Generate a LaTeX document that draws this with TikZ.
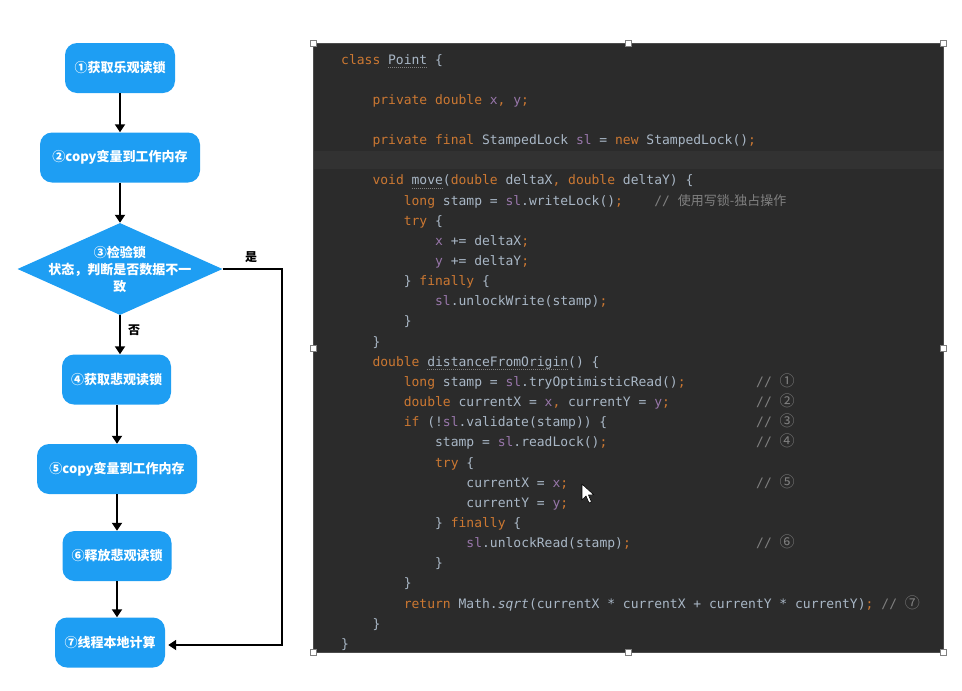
\documentclass[tikz,border=0pt]{standalone}
\usepackage{fontspec}
\usetikzlibrary{shapes.geometric,arrows.meta}
\newfontfamily\cjk{Noto Sans CJK SC}
\newfontfamily\mono{DejaVu Sans Mono}
\definecolor{flowblue}{RGB}{30,158,243}
\definecolor{panel}{RGB}{43,43,43}
\definecolor{band}{RGB}{50,50,50}
\definecolor{kw}{RGB}{204,120,50}
\definecolor{fd}{RGB}{152,118,170}
\definecolor{tx}{RGB}{169,183,198}
\definecolor{cm}{RGB}{128,128,128}
\newcommand\kwd[1]{\textcolor{kw}{#1}}
\newcommand\fld[1]{\textcolor{fd}{#1}}
\newcommand\circd[1]{{\cjk\fontsize{15}{15}\selectfont #1}}
\newcommand\codeln[4]{\node[code] (#1) at ({341+#2*7.83},{64+#3*20.15}) {#4};}
\newcommand\cmtln[4]{\node[cmt] (#1) at ({341+#2*7.83},{64+#3*20.15}) {#4};}
\tikzset{
  box/.style={rounded corners=12pt, fill=flowblue, text=white,
    font=\cjk\bfseries\fontsize{13}{15}\selectfont, minimum height=50pt, inner sep=0pt},
  flow/.style={line width=1.8pt, -{Triangle[length=8pt,width=10pt]}},
  lbl/.style={font=\cjk\bfseries\fontsize{12}{14}\selectfont, text=black, inner sep=0pt},
  code/.style={anchor=base west, inner sep=0pt, text=tx, font=\mono\fontsize{13}{15}\selectfont},
  cmt/.style={code, text=cm},
  handle/.style={draw=gray, fill=white, line width=0.6pt, minimum size=6pt, inner sep=0pt},
  warnline/.style={draw=cm, line width=0.8pt, dash pattern=on 1pt off 1pt}
}
\begin{document}
\begin{tikzpicture}[x=1pt, y=-1pt]
\useasboundingbox (0,0) rectangle (962,691);
% ---------- flowchart ----------
\node[box, minimum width=110pt] (n1) at (120,68) {①获取乐观读锁};
\node[box, minimum width=160pt] (n2) at (120,157.5) {②copy变量到工作内存};
\node[diamond, fill=flowblue, minimum width=205pt, minimum height=92pt, inner sep=0pt] (d3) at (120,269) {};
\node[text=white, font=\cjk\bfseries\fontsize{13}{17}\selectfont, align=center, inner sep=0pt] (t3) at (d3) {③检验锁\\状态，判断是否数据不一\\致};
\node[box, minimum width=109pt] (n4) at (116.5,379.5) {④获取悲观读锁};
\node[box, minimum width=160pt] (n5) at (117,469) {⑤copy变量到工作内存};
\node[box, minimum width=109pt] (n6) at (117,556) {⑥释放悲观读锁};
\node[box, minimum width=110pt] (n7) at (110,642.5) {⑦线程本地计算};
\draw[flow] (n1.south) -- (n2.north);
\draw[flow] (n2.south) -- (d3.north);
\draw[flow] (d3.south) -- (d3.south |- n4.north);
\draw[flow] (n4.south -| n5.north) -- (n5.north);
\draw[flow] (n5.south) -- (n5.south |- n6.north);
\draw[flow] (n6.south) -- (n6.south |- n7.north);
\coordinate (c1) at (282,269);
\coordinate (c2) at (282,645);
\draw[flow, line join=miter] (d3.east) -- (c1) -- (c2) -- ([xshift=3pt]n7.east |- c2);
\node[lbl] (yes) at (251,257) {是};
\node[lbl] (no) at (134,330) {否};
% ---------- code panel ----------
\fill[panel] (313,43) rectangle (943,652);
\fill[band] (313,151) rectangle (943,169);
\draw[draw=black!70, line width=0.5pt] (313,43) rectangle (943,652);
\codeln{L0}{0}{0}{\kwd{class} Point \{}
\codeln{L2}{4}{2}{\kwd{private double} \fld{x}\kwd{,} \fld{y}\kwd{;}}
\codeln{L4}{4}{4}{\kwd{private final} StampedLock \fld{sl} = \kwd{new} StampedLock()\kwd{;}}
\codeln{L6}{4}{6}{\kwd{void} move(\kwd{double} deltaX\kwd{,} \kwd{double} deltaY) \{}
\codeln{L7}{8}{7}{\kwd{long} stamp = \fld{sl}.writeLock()\kwd{;}}
\cmtln{C7}{40}{7}{// {\cjk 使用写锁-独占操作}}
\codeln{L8}{8}{8}{\kwd{try} \{}
\codeln{L9}{12}{9}{\fld{x} += deltaX\kwd{;}}
\codeln{L10}{12}{10}{\fld{y} += deltaY\kwd{;}}
\codeln{L11}{8}{11}{\} \kwd{finally} \{}
\codeln{L12}{12}{12}{\fld{sl}.unlockWrite(stamp)\kwd{;}}
\codeln{L13}{8}{13}{\}}
\codeln{L14}{4}{14}{\}}
\codeln{L15}{4}{15}{\kwd{double} distanceFromOrigin() \{}
\codeln{L16}{8}{16}{\kwd{long} stamp = \fld{sl}.tryOptimisticRead()\kwd{;}}
\cmtln{C16}{53}{16}{// \circd{①}}
\codeln{L17}{8}{17}{\kwd{double} currentX = \fld{x}\kwd{,} currentY = \fld{y}\kwd{;}}
\cmtln{C17}{53}{17}{// \circd{②}}
\codeln{L18}{8}{18}{\kwd{if} (!\fld{sl}.validate(stamp)) \{}
\cmtln{C18}{53}{18}{// \circd{③}}
\codeln{L19}{12}{19}{stamp = \fld{sl}.readLock()\kwd{;}}
\cmtln{C19}{53}{19}{// \circd{④}}
\codeln{L20}{12}{20}{\kwd{try} \{}
\codeln{L21}{16}{21}{currentX = \fld{x}\kwd{;}}
\cmtln{C21}{53}{21}{// \circd{⑤}}
\codeln{L22}{16}{22}{currentY = \fld{y}\kwd{;}}
\codeln{L23}{12}{23}{\} \kwd{finally} \{}
\codeln{L24}{16}{24}{\fld{sl}.unlockRead(stamp)\kwd{;}}
\cmtln{C24}{53}{24}{// \circd{⑥}}
\codeln{L25}{12}{25}{\}}
\codeln{L26}{8}{26}{\}}
\codeln{L27}{8}{27}{\kwd{return} Math.\textit{sqrt}(currentX * currentX + currentY * currentY)\kwd{;}}
\cmtln{C27}{69}{27}{// \circd{⑦}}
\codeln{L28}{4}{28}{\}}
\codeln{L29}{0}{29}{\}}
% warning underlines
\draw[warnline] (388,67.5) -- (427,67.5);
\draw[warnline] (411.5,188.5) -- (443,188.5);
\draw[warnline] (427,369.5) -- (568,369.5);
% mouse cursor
\draw[fill=white, line width=0.6pt, line join=round] (582,484) -- (582,500) -- (586,496) -- (589,503) -- (591.5,502) -- (588.5,495) -- (594,495) -- cycle;
% selection handles
\foreach \hx/\hy/\hn in {313/43/h1, 628/43/h2, 943/43/h3, 313/348/h4, 943/348/h5, 313/652/h6, 628/652/h7, 943/652/h8}
  \node[handle] (\hn) at (\hx,\hy) {};
\end{tikzpicture}
\end{document}
